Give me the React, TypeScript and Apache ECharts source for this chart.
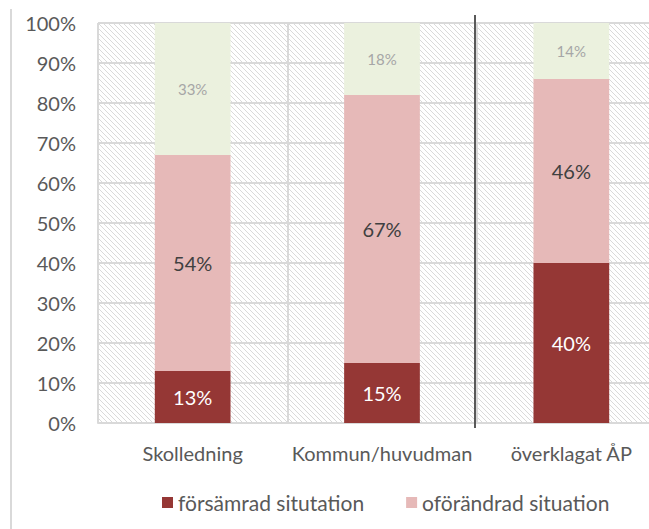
import React, { useEffect, useRef } from "react";
import * as echarts from "echarts";

const categories = ["Skolledning", "Kommun/huvudman", "överklagat ÅP"];
const worse = [13, 15, 40];
const unchanged = [54, 67, 46];
const other = [33, 18, 14];
const seriesNames = ["försämrad situtation", "oförändrad situation", "övrigt"];
const yTicks = [0, 100, 10];

function makeHatch(): HTMLCanvasElement {
  const s = 5;
  const c = document.createElement("canvas");
  c.width = s;
  c.height = s;
  const ctx = c.getContext("2d")!;
  ctx.fillStyle = "#ffffff";
  ctx.fillRect(0, 0, s, s);
  ctx.strokeStyle = "#dadada";
  ctx.lineWidth = 1;
  for (const k of [-s, 0, s]) {
    ctx.beginPath();
    ctx.moveTo(k, 0);
    ctx.lineTo(k + s, s);
    ctx.stroke();
  }
  return c;
}

export default function App() {
  const ref = useRef<HTMLDivElement>(null);
  useEffect(() => {
    if (!ref.current) return;
    const chart = echarts.init(ref.current, null, { renderer: "svg" });
    const font = "Lato, 'Open Sans', sans-serif";
    const grid = "#d9d9d9";
    chart.setOption({
      animation: false,
      backgroundColor: "#ffffff",
      textStyle: { fontFamily: font },
      grid: {
        left: 98,
        width: 568,
        top: 23,
        bottom: 106,
        show: true,
        borderWidth: 0,
        outerBoundsMode: "none",
        containLabel: false,
        backgroundColor: { image: makeHatch(), repeat: "repeat" } as any,
      } as any,
      legend: {
        data: [seriesNames[0], seriesNames[1]],
        left: 162,
        top: 492,
        padding: 0,
        itemWidth: 11,
        itemHeight: 11,
        itemGap: 42,
        icon: "rect",
        textStyle: { fontFamily: font, fontSize: 21, color: "#595959" },
      },
      xAxis: {
        type: "category",
        data: categories,
        axisLine: { lineStyle: { color: grid, width: 2 } },
        axisTick: { show: false },
        splitLine: { show: true, lineStyle: { color: grid, width: 2 } },
        axisLabel: { fontFamily: font, fontSize: 20, color: "#595959", margin: 20, interval: 0 },
      },
      yAxis: {
        type: "value",
        min: yTicks[0],
        max: yTicks[1],
        interval: yTicks[2],
        axisLine: { show: false },
        axisTick: { show: false },
        splitLine: { lineStyle: { color: grid, width: 2 } },
        axisLabel: {
          formatter: "{value}%",
          fontFamily: font,
          fontSize: 20,
          color: "#595959",
          margin: 22,
        },
      },
      series: [
        {
          name: seriesNames[0],
          type: "bar",
          stack: "t",
          data: worse,
          barCategoryGap: "60%",
          itemStyle: { color: "#953735" },
          label: { show: true, position: "inside", formatter: "{c}%", color: "#ffffff", fontSize: 20, fontFamily: font },
        },
        {
          name: seriesNames[1],
          type: "bar",
          stack: "t",
          data: unchanged,
          itemStyle: { color: "#e6b9b8" },
          label: { show: true, position: "inside", formatter: "{c}%", color: "#404040", fontSize: 20, fontFamily: font },
        },
        {
          name: seriesNames[2],
          type: "bar",
          stack: "t",
          data: other,
          itemStyle: { color: "#ebf1de" },
          label: { show: true, position: "inside", formatter: "{c}%", color: "#a6a6a6", fontSize: 15, fontFamily: font },
        },
      ],
    });
    const a = chart.convertToPixel({ xAxisIndex: 0 }, categories[1]) as number;
    const b = chart.convertToPixel({ xAxisIndex: 0 }, categories[2]) as number;
    const sep = Math.round((a + b) / 2) - 2;
    chart.setOption({
      graphic: [
        {
          type: "line",
          shape: { x1: 11, y1: 9, x2: 11, y2: 529 },
          style: { stroke: "#d9d9d9", lineWidth: 2 },
          silent: true,
        },
        {
          type: "line",
          z: 100,
          shape: { x1: sep, y1: 15, x2: sep, y2: 428 },
          style: { stroke: "#595959", lineWidth: 2 },
          silent: true,
        },
      ],
    });
    return () => chart.dispose();
  }, []);
  return (
    <div
      ref={ref}
      style={{ position: "fixed", left: 0, top: 0, width: 649, height: 529 }}
    />
  );
}
